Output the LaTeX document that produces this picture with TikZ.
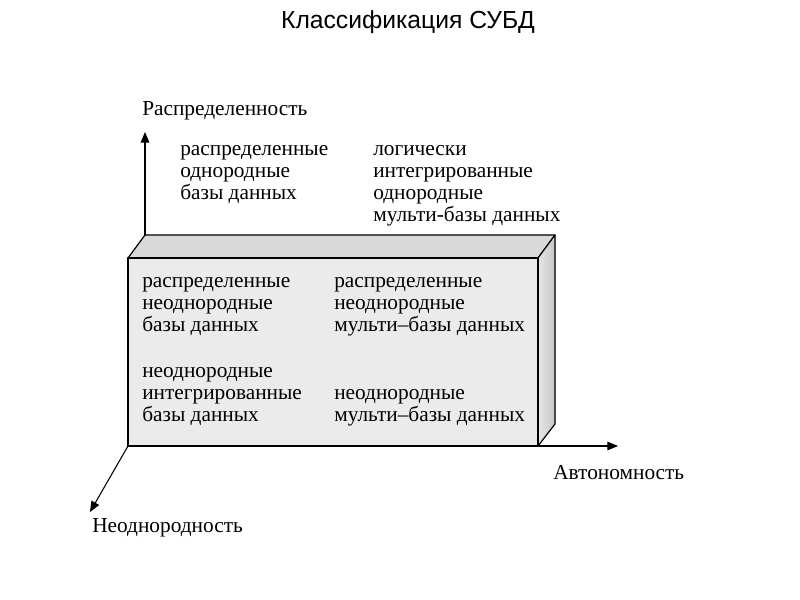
\documentclass[tikz,border=0pt]{standalone}
\usepackage{fontspec}
\setmainfont{Liberation Serif}
\newfontfamily\titlefont{Liberation Sans}
\usetikzlibrary{arrows.meta}
\begin{document}
\begin{tikzpicture}[x=0.75pt,y=-0.75pt,
  lbl/.style={inner sep=0pt, anchor=base west, align=left, font=\fontsize{16pt}{16.5pt}\selectfont},
  axis/.style={line width=0.8pt, -{Triangle[length=8pt,width=6.5pt]}},
  edge/.style={line width=0.9pt, line join=round}]
\useasboundingbox (0,0) rectangle (800,600);
% box corners
\coordinate (FTL) at (128,258);
\coordinate (FTR) at (538,258);
\coordinate (FBR) at (538,446);
\coordinate (FBL) at (128,446);
\coordinate (BTL) at (145,235);
\coordinate (BTR) at (555,235);
\coordinate (BBR) at (555,424);
% axis tips
\coordinate (vtip) at (145,132);
\coordinate (htip) at (618,446);
\coordinate (dtip) at (90,512);
% faces
\filldraw[edge, fill=black!15] (FTL) -- (BTL) -- (BTR) -- (FTR) -- cycle;
\filldraw[edge, left color=black!10, right color=black!22] (FTR) -- (BTR) -- (BBR) -- (FBR) -- cycle;
\filldraw[edge, fill=black!8, line width=1.2pt] (FTL) rectangle (FBR);
% axes
\draw[axis] (BTL) -- (vtip);
\draw[axis] (FBR) -- (htip);
\draw[axis] (FBL) -- (dtip);
% title
\node[font=\titlefont\fontsize{18.5pt}{21pt}\selectfont, anchor=base] (title) at (408,28) {Классификация СУБД};
% axis labels (anchor at baseline of last line)
\node[lbl] (lv) at (142,115) {Распределенность};
\node[lbl] (lh) at (553,479) {Автономность};
\node[lbl] (ld) at (92,532) {Неоднородность};
% upper texts
\node[lbl] (t1) at (180,199) {распределенные\\однородные\\базы данных};
\node[lbl] (t2) at (373,221) {логически\\интегрированные\\однородные\\мульти-базы данных};
% front texts
\node[lbl] (f1) at (142,331) {распределенные\\неоднородные\\базы данных};
\node[lbl] (f2) at (334,331) {распределенные\\неоднородные\\мульти–базы данных};
\node[lbl] (f3) at (142,421) {неоднородные\\интегрированные\\базы данных};
\node[lbl] (f4) at (334,421) {неоднородные\\мульти–базы данных};
\end{tikzpicture}
\end{document}
